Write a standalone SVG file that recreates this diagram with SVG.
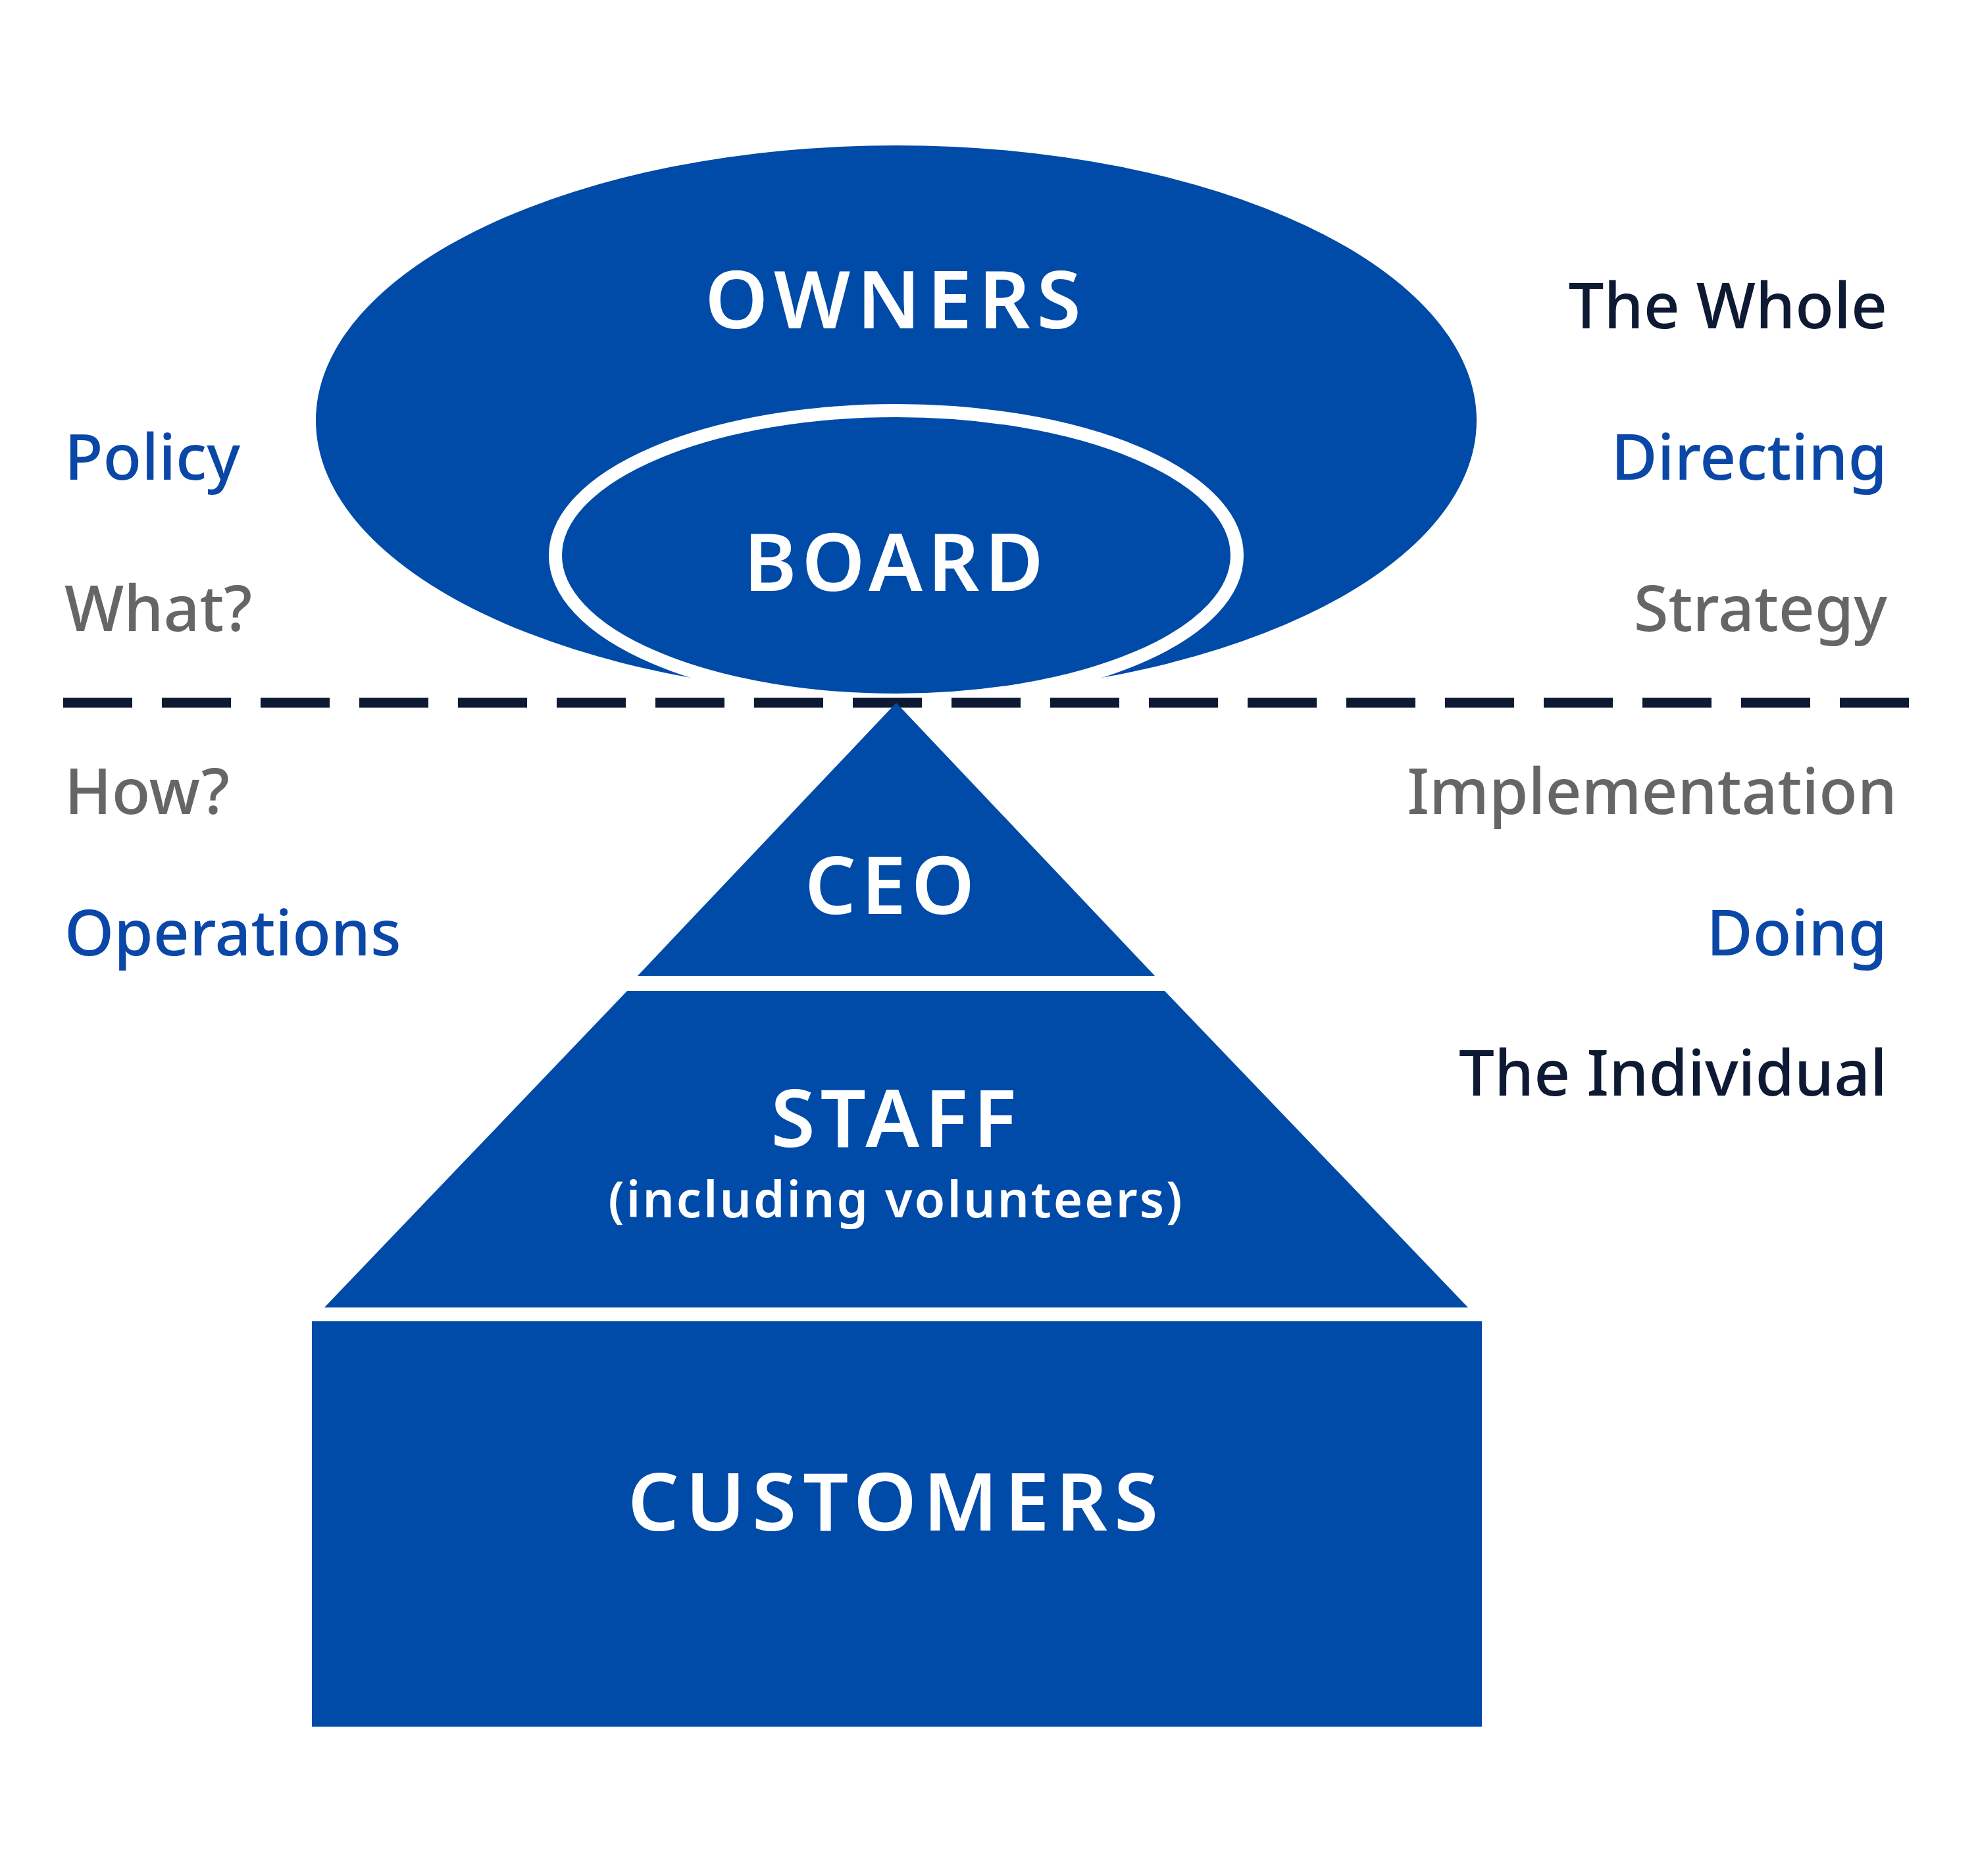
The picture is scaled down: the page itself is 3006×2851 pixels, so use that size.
<svg xmlns="http://www.w3.org/2000/svg" width="3006" height="2851" viewBox="0 0 3006 2851">
<style>
.shape{fill:#004aa8}
.w{fill:#fff;font-family:"Noto Sans",sans-serif;font-weight:600;text-anchor:middle}
.l{font-family:"Noto Sans",sans-serif;font-weight:500;font-size:96px}
.blue{fill:#0a47a6}.grey{fill:#666}.dark{fill:#0e1a33}
.r{text-anchor:end}
</style>
<rect width="3006" height="2851" fill="#fff"/>
<g id="owners"><ellipse class="shape" cx="1362" cy="639" rx="882" ry="418"/><text class="w" x="1362" y="499" font-size="122" letter-spacing="10">OWNERS</text></g>
<g id="board"><ellipse class="shape" cx="1362" cy="844" rx="518" ry="220" stroke="#fff" stroke-width="20"/><text class="w" x="1362" y="898" font-size="122" letter-spacing="8">BOARD</text></g>
<g id="connectors"><line x1="96" y1="1068" x2="2910" y2="1068" stroke="#0e1a33" stroke-width="15" stroke-dasharray="105 45"/></g>
<g id="ceo"><polygon class="shape" points="1362,1068 1755,1483 969,1483"/><text class="w" x="1356" y="1389" font-size="122" letter-spacing="8">CEO</text></g>
<g id="staff"><polygon class="shape" points="953,1506 1770,1506 2231,1987 493,1987"/><text class="w" x="1362" y="1743" font-size="122" letter-spacing="8">STAFF</text><text class="w" x="1362" y="1850" font-size="76" letter-spacing="3">(including volunteers)</text></g>
<g id="customers"><rect class="shape" x="474" y="2008" width="1778" height="616"/><text class="w" x="1362" y="2326" font-size="122" letter-spacing="10">CUSTOMERS</text></g>
<g id="labels">
<text class="l blue" x="98" y="729">Policy</text>
<text class="l grey" x="98" y="959">What?</text>
<text class="l grey" x="98" y="1237">How?</text>
<text class="l blue" x="98" y="1452">Operations</text>
<text class="l dark r" x="2868" y="499">The Whole</text>
<text class="l blue r" x="2868" y="729">Directing</text>
<text class="l grey r" x="2868" y="959">Strategy</text>
<text class="l grey r" x="2883" y="1237">Implementation</text>
<text class="l blue r" x="2868" y="1452">Doing</text>
<text class="l dark r" x="2868" y="1665">The Individual</text>
</g>
</svg>
